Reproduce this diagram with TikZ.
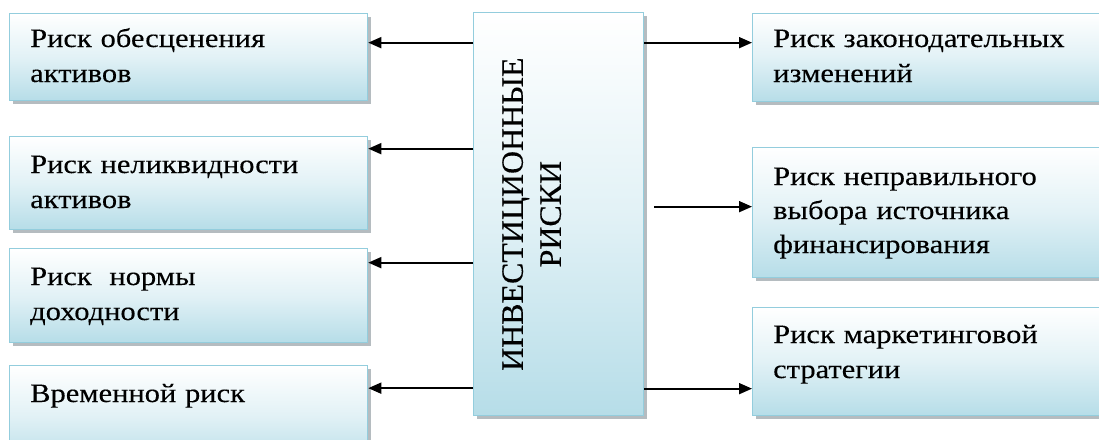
\documentclass[tikz,border=0pt]{standalone}
\usepackage{fontspec}
\setmainfont{Liberation Serif}
\newfontfamily\boxfont[FakeStretch=1.15, FakeBold=0.25]{Liberation Serif}
\newfontfamily\titlefont[FakeStretch=1.03, FakeBold=0.3]{Liberation Serif}
\usetikzlibrary{arrows.meta}

\definecolor{boxblue}{HTML}{B6DDE8}
\definecolor{boxedge}{HTML}{93CDDD}
\definecolor{shadowgray}{HTML}{9CA6AB}

\tikzset{
  riskbox/.style={
    rectangle, anchor=north west, inner sep=0pt,
    draw=boxedge, line width=1.3pt,
    top color=white, bottom color=boxblue, middle color=boxblue!40!white,
    preaction={fill=shadowgray, opacity=0.75,
      transform canvas={xshift=3pt, yshift=-3.5pt}}
  },
  risktext/.style={
    anchor=base west, inner sep=0pt, text width=340pt, align=left,
    font=\boxfont\fontsize{26.5}{35}\selectfont, text=black
  },
  centertext/.style={
    inner sep=0pt, rotate=90, align=center,
    font=\titlefont\fontsize{31}{38}\selectfont, text=black
  },
  arr/.style={
    draw=black, line width=1.7pt,
    -{Triangle[length=13pt, width=11pt]}
  }
}

\begin{document}
\begin{tikzpicture}[x=1pt, y=-1pt]
  \useasboundingbox (0,0) rectangle (1099,439);

  % left column
  \node[riskbox, minimum width=358pt, minimum height=87pt]  (L1) at (9,13)  {};
  \node[riskbox, minimum width=358pt, minimum height=93pt]  (L2) at (9,136) {};
  \node[riskbox, minimum width=358pt, minimum height=94pt]  (L3) at (9,248) {};
  \node[riskbox, minimum width=358pt, minimum height=100pt] (L4) at (9,365) {};

  % centre block
  \node[riskbox, minimum width=170pt, minimum height=403pt] (C) at (473,12) {};

  % right column
  \node[riskbox, minimum width=360pt, minimum height=88pt]  (R1) at (752,13)  {};
  \node[riskbox, minimum width=360pt, minimum height=130pt] (R2) at (752,147) {};
  \node[riskbox, minimum width=360pt, minimum height=108pt] (R3) at (752,307) {};

  % captions
  \node[risktext] (tL1) at ([xshift=21pt, yshift=-34pt]L1.north west) {Риск обесценения\\активов};
  \node[risktext] (tL2) at ([xshift=21pt, yshift=-37pt]L2.north west) {Риск неликвидности\\активов};
  \node[risktext] (tL3) at ([xshift=21pt, yshift=-37pt]L3.north west) {Риск\ \ нормы\\доходности};
  \node[risktext] (tL4) at ([xshift=21pt, yshift=-37pt]L4.north west) {Временной риск};

  \node[risktext] (tR1) at ([xshift=21pt, yshift=-34pt]R1.north west) {Риск законодательных\\изменений};
  \node[risktext, font=\boxfont\fontsize{26.5}{34}\selectfont] (tR2) at ([xshift=21pt, yshift=-38pt]R2.north west) {Риск неправильного\\выбора источника\\финансирования};
  \node[risktext] (tR3) at ([xshift=21pt, yshift=-36pt]R3.north west) {Риск маркетинговой\\стратегии};

  \node[centertext] (tC) at ([xshift=-27pt]C.center) {ИНВЕСТИЦИОННЫЕ\\РИСКИ};

  % connector rows
  \coordinate (a1) at ([yshift=14.5pt]L1.east);
  \coordinate (a2) at ([yshift=34.5pt]L2.east);
  \coordinate (a3) at ([yshift=33pt]L3.east);
  \coordinate (a4) at ([yshift=27.5pt]L4.east);
  \coordinate (b1) at ([yshift=15pt]R1.west);
  \coordinate (b2) at ([yshift=6pt]R2.west);
  \coordinate (b3) at ([yshift=-27pt]R3.west);

  \draw[arr] (a1 -| C.west) -- (a1);
  \draw[arr] (a2 -| C.west) -- (a2);
  \draw[arr] (a3 -| C.west) -- (a3);
  \draw[arr] (a4 -| C.west) -- (a4);

  \draw[arr] (b1 -| C.east) -- (b1);
  \draw[arr] ([xshift=10pt]b2 -| C.east) -- (b2);
  \draw[arr] (b3 -| C.east) -- (b3);
\end{tikzpicture}
\end{document}
